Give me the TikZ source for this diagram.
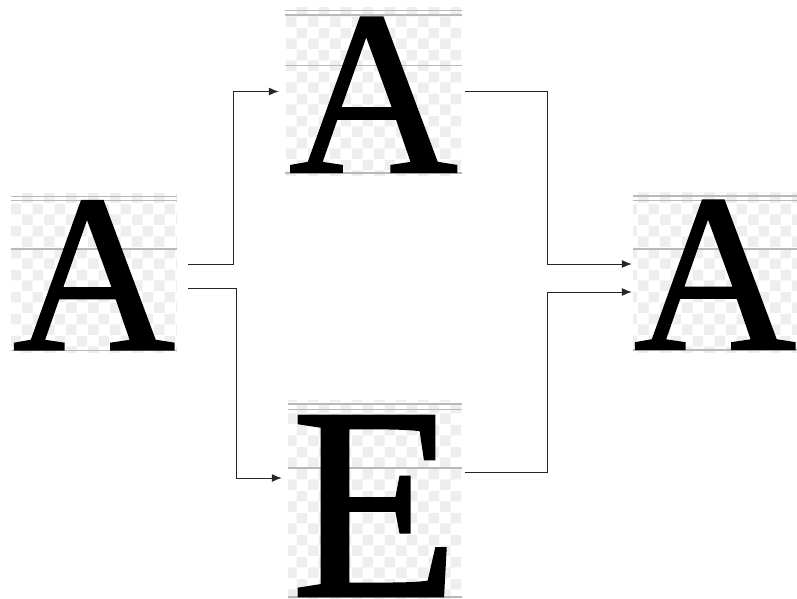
\documentclass[tikz,border=0pt]{standalone}
\usepackage{fontspec}
\setmainfont{Liberation Serif}
\newfontfamily\glyphfont[FakeBold=1]{Liberation Serif}
\usepackage{tikz}
\usetikzlibrary{arrows.meta,patterns.meta}

% light checkerboard behind each glyph
\tikzdeclarepattern{
  name=checks,
  type=uncolored,
  bottom left={(0pt,0pt)},
  top right={(22pt,22pt)},
  tile size={(22pt,22pt)},
  code={\fill (0pt,0pt) rectangle (11pt,11pt) (11pt,11pt) rectangle (22pt,22pt);}
}

\tikzset{
  glyphbox/.style={rectangle, inner sep=0pt, draw=none, pattern=checks, pattern color=gray!13},
  guide/.style={gray!55, line width=1.4pt},
  glyph/.style={anchor=base, inner sep=0pt},
  conn/.style={black!85, line width=1pt, -{Latex[length=10pt,width=8pt]}},
}

\begin{document}
\begin{tikzpicture}[x=1pt, y=-1pt]
  \useasboundingbox (0,0) rectangle (797,599);

  % glyph boxes
  \node[glyphbox, minimum width=166, minimum height=159] (srcA) at (94,272.5) {};
  \node[glyphbox, minimum width=177, minimum height=167] (upA) at (373.5,91.5) {};
  \node[glyphbox, minimum width=174, minimum height=199] (lowE) at (375,499.5) {};
  \node[glyphbox, minimum width=164, minimum height=160] (outA) at (715,272) {};

  % guide lines: cap height, ascender, x-height, baseline
  \foreach \nm/\ya/\yb/\yc/\yd in {srcA/196.5/200.5/249/350.5, upA/10.5/15/65.5/173,
                                   lowE/404/409.5/468/597, outA/196/200.5/249/350}{
    \draw[guide] (\nm.west |- 0,\ya) -- (\nm.east |- 0,\ya);
    \draw[guide] (\nm.west |- 0,\yb) -- (\nm.east |- 0,\yb);
    \draw[guide] (\nm.west |- 0,\yc) -- (\nm.east |- 0,\yc);
    \draw[guide] (\nm.west |- 0,\yd) -- (\nm.east |- 0,\yd);
  }

  % the letters, sitting on the baseline
  \node[glyph, font=\glyphfont\fontsize{225}{225}\selectfont] (srcAch) at (srcA |- 0,349.5) {A};
  \node[glyph, font=\glyphfont\fontsize{234}{234}\selectfont] (upAch) at (upA |- 0,172) {A};
  \node[glyph, font=\glyphfont\fontsize{275}{275}\selectfont] (lowEch) at (lowE |- 0,596) {E};
  \node[glyph, font=\glyphfont\fontsize{225}{225}\selectfont] (outAch) at (outA |- 0,349) {A};

  % split
  \draw[conn] ([shift={(11,-8.5)}]srcA.east) -| ([xshift=-51]upA.west) -- ([xshift=-6]upA.west);
  \draw[conn] ([shift={(11,15.5)}]srcA.east) -| ([shift={(-51,-21.5)}]lowE.west) -- ([shift={(-6,-21.5)}]lowE.west);

  % merge
  \draw[conn] ([xshift=3]upA.east) -| ([shift={(-85,-8)}]outA.west) -- ([shift={(-1,-8)}]outA.west);
  \draw[conn] ([shift={(3,-27.5)}]lowE.east) -| ([shift={(-85,20)}]outA.west) -- ([shift={(-1,20)}]outA.west);
\end{tikzpicture}
\end{document}
